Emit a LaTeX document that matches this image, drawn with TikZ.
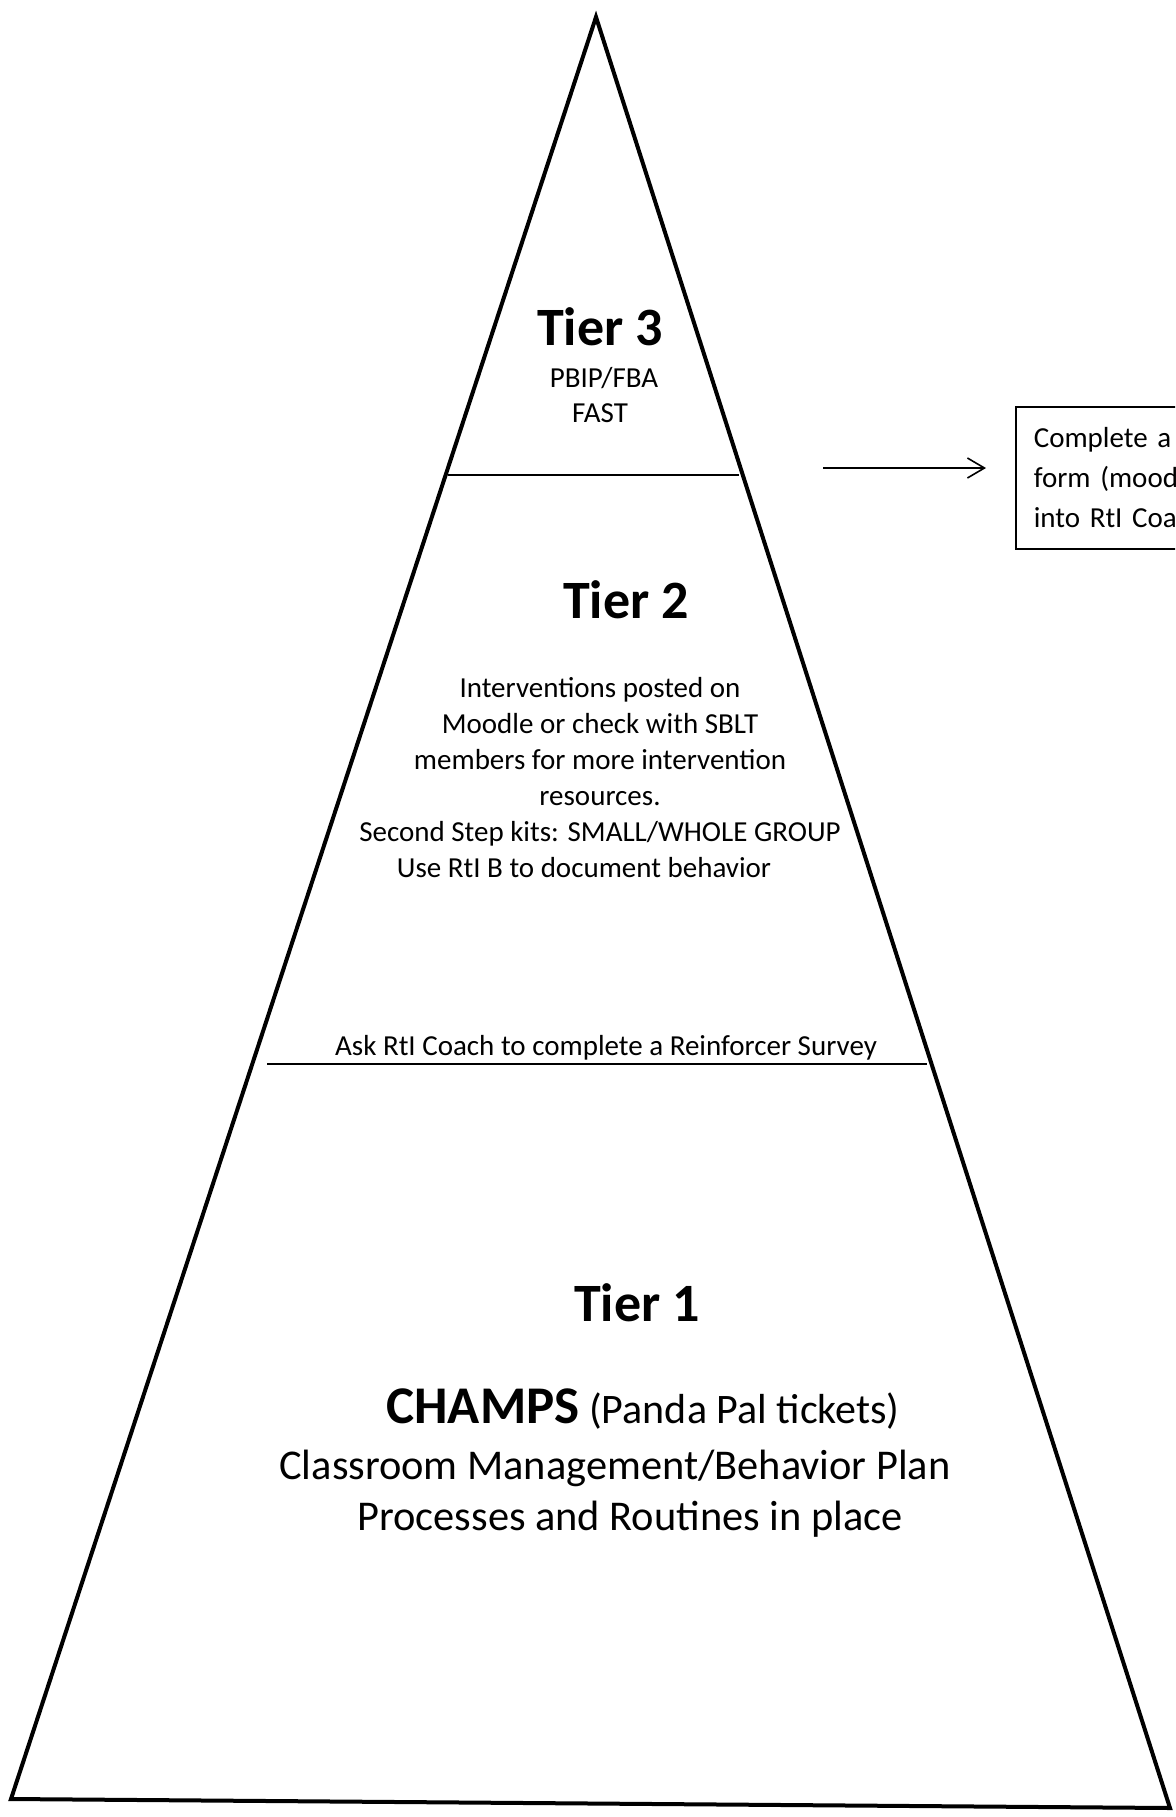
\documentclass[tikz,border=0pt]{standalone}
\usepackage{fontspec}
\setmainfont{Carlito}
\usetikzlibrary{arrows.meta,positioning}

\tikzset{
  pyramid/.style={line width=2pt, line join=miter},
  tierline/.style={line width=1pt},
  tierhead/.style={font=\fontsize{27}{32}\selectfont\bfseries, inner sep=0pt},
  tiertext/.style={font=\fontsize{14.5}{18}\selectfont, align=center, inner sep=0pt},
  bigtext/.style={font=\fontsize{21.2}{25.5}\selectfont, align=center, inner sep=0pt},
  notebox/.style={draw, line width=0.8pt, text width=90pt, align=left, inner xsep=9pt,
    minimum height=71pt, font=\fontsize{14.5}{20}\selectfont}
}

\begin{document}
\begin{tikzpicture}[x=0.5pt, y=-0.5pt]
  \useasboundingbox (0,0) rectangle (1175,1817);
  \clip (0,0) rectangle (1175,1817);

  % pyramid outline
  \coordinate (apex) at (596,17);
  \coordinate (bl) at (11,1799);
  \coordinate (br) at (1170,1808);
  \draw[pyramid] (apex) -- (bl) -- (br) -- cycle;

  % tier borders
  \draw[tierline] (448,475) -- (739,475);
  \draw[tierline] (267,1064) -- (927,1064);

  % tier 3
  \node[tierhead, anchor=base] (tthree) at (600,345) {Tier 3};
  \node[tiertext, anchor=base] (tthreea) at (604,387) {PBIP/FBA};
  \node[tiertext, anchor=base] (tthreeb) at (600,422) {FAST};

  % tier 2
  \node[tierhead, anchor=base] (ttwo) at (626,618) {Tier 2};
  \node[tiertext, anchor=north] (ttwotext) at (600,677) {Interventions posted on\\
    Moodle or check with SBLT\\
    members for more intervention\\
    resources.\\
    Second Step kits: SMALL/WHOLE GROUP\\
    Use RtI B to document behavior\hspace*{16pt}};
  \node[tiertext, anchor=base] (survey) at (606,1055) {Ask RtI Coach to complete a Reinforcer Survey};

  % tier 1
  \node[tierhead, anchor=base] (tone) at (637,1321) {Tier 1};
  \node[bigtext, anchor=base] (champs) at (643,1423)
    {{\fontsize{26.5}{30}\selectfont\bfseries CHAMPS} {\fontsize{21}{25}\selectfont(Panda Pal tickets)}};
  \node[bigtext, anchor=base] (classroom) at (615,1479) {Classroom Management/Behavior Plan};
  \node[bigtext, anchor=base] (routines) at (630,1530) {Processes and Routines in place};

  % side note
  \node[notebox, anchor=north west] (fastbox) at (1015,406)
    {Complete a\\form (mood\\into RtI Coac};
  \coordinate (arrfrom) at (823,468);
  \coordinate (arrto) at (986,468);
  \draw[line width=0.8pt, -{Straight Barb[length=8.5pt, width=10pt]}] (arrfrom) -- (arrto);
\end{tikzpicture}
\end{document}
